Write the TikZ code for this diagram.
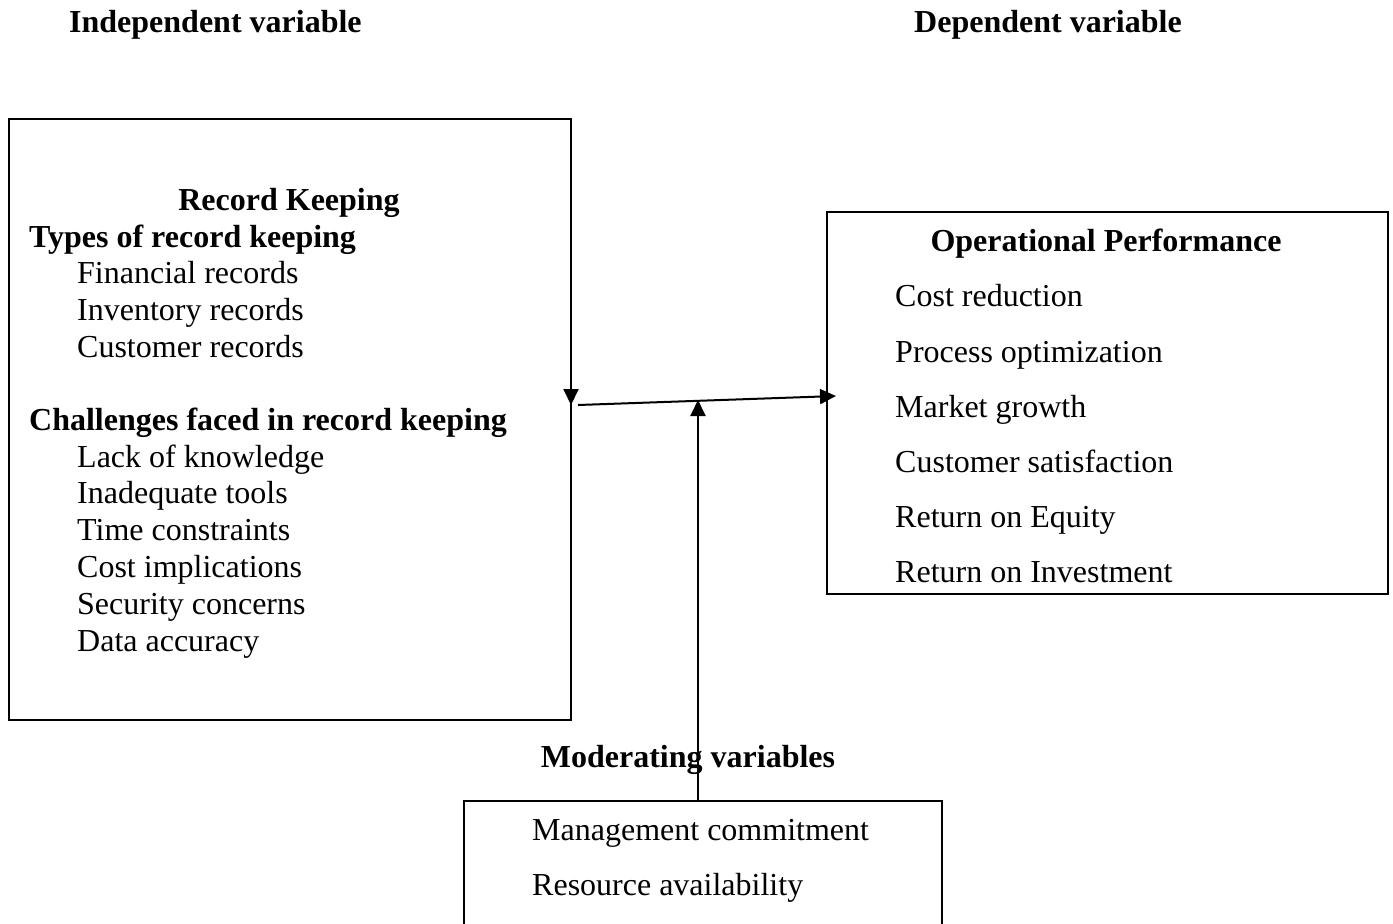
\documentclass[tikz,border=0pt]{standalone}
\usepackage{fontspec}
\setmainfont{Liberation Serif}
\usetikzlibrary{arrows.meta}
\tikzset{
  txt/.style={font=\fontsize{32}{37}\selectfont, inner sep=0pt, anchor=base west},
  btxt/.style={txt, font=\fontsize{32}{37}\selectfont\bfseries},
  box/.style={draw, line width=1.5pt, inner sep=0pt, anchor=north west},
  conn/.style={line width=2pt, -{Triangle[length=16pt,width=15pt]}}
}
\begin{document}
\begin{tikzpicture}[x=1pt,y=-1pt]
\useasboundingbox (0,0) rectangle (1393,924);
% headings
\node[btxt] (iv) at (69,32) {Independent variable};
\node[btxt] (dv) at (914,32) {Dependent variable};
% boxes
\node[box, minimum width=562pt, minimum height=601pt] (rk) at (8,118) {};
\node[box, minimum width=561pt, minimum height=382pt] (op) at (826,211) {};
\node[box, minimum width=478pt, minimum height=160pt] (mv) at (463,800) {};
% left box text
\node[btxt, anchor=base] (rkt) at (289,210) {Record Keeping};
\node[btxt] (t1) at (29,247) {Types of record keeping};
\node[txt] (a1) at (77,283) {Financial records};
\node[txt] (a2) at (77,320) {Inventory records};
\node[txt] (a3) at (77,357) {Customer records};
\node[btxt] (t2) at (29,430) {Challenges faced in record keeping};
\node[txt] (b1) at (77,467) {Lack of knowledge};
\node[txt] (b2) at (77,503) {Inadequate tools};
\node[txt] (b3) at (77,540) {Time constraints};
\node[txt] (b4) at (77,577) {Cost implications};
\node[txt] (b5) at (77,614) {Security concerns};
\node[txt] (b6) at (77,651) {Data accuracy};
% right box text
\node[btxt, anchor=base] (opt) at (1106,251) {Operational Performance};
\node[txt] (c1) at (895,306) {Cost reduction};
\node[txt] (c2) at (895,362) {Process optimization};
\node[txt] (c3) at (895,417) {Market growth};
\node[txt] (c4) at (895,472) {Customer satisfaction};
\node[txt] (c5) at (895,527) {Return on Equity};
\node[txt] (c6) at (895,582) {Return on Investment};
% moderating
\node[txt] (m1) at (532,840) {Management commitment};
\node[txt] (m2) at (532,895) {Resource availability};
% connectors
\coordinate (s1) at (578,405);
\coordinate (e1) at (836,396);
\coordinate (mtop) at (698,800);
\coordinate (mtip) at (698,400);
\coordinate (dtop) at (571,385);
\coordinate (dtip) at (571,405);
\draw[conn] (mtop) -- (mtip);
\node[btxt, anchor=base] (mvt) at (688,767) {Moderating variables};
\draw[conn] (s1) -- (e1);
\draw[conn] (dtop) -- (dtip);
\end{tikzpicture}
\end{document}
